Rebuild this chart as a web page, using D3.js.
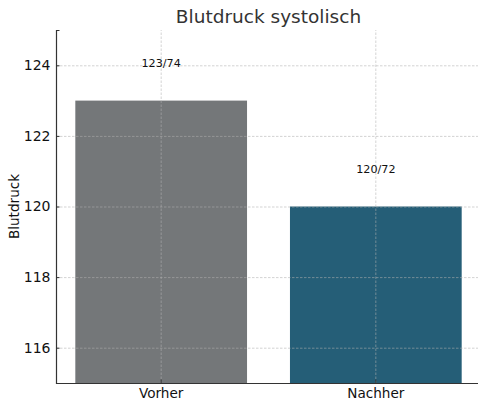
<!DOCTYPE html>
<html>
<head>
<meta charset="utf-8">
<script src="https://cdn.jsdelivr.net/npm/d3@7"></script>
<style>
  body { margin: 0; background: #fff; }
  svg { font-family: "DejaVu Sans", sans-serif; }
</style>
</head>
<body>
<script>
// chart data
const categories = ['Vorher', 'Nachher'];
const systolic = [123, 120];
const labels = ['123/74', '120/72'];
const barColors = ['#747779', '#255e77'];
const yTicks = [116, 118, 120, 122, 124];

const width = 478, height = 401;
const margin = { left: 56, right: -3, top: 30, bottom: 18 };

const svg = d3.select('body').append('svg')
    .attr('width', width)
    .attr('height', height);

// scales
const x = d3.scaleBand()
    .domain(categories)
    .range([margin.left, width - margin.right])
    .paddingInner(0.2)
    .paddingOuter(0.09);

const y = d3.scaleLinear()
    .domain([115, 125])
    .range([height - margin.bottom, margin.top]);

// bars
svg.selectAll('rect.bar')
    .data(categories)
    .join('rect')
    .attr('class', 'bar')
    .attr('x', (d) => x(d))
    .attr('width', x.bandwidth())
    .attr('y', (d, i) => y(systolic[i]))
    .attr('height', (d, i) => y(115) - y(systolic[i]))
    .attr('fill', (d, i) => barColors[i]);

// grid lines on top of the bars
const grid = svg.append('g').attr('class', 'grid')
    .attr('stroke', '#b0b0b0')
    .attr('stroke-opacity', 0.7)
    .attr('stroke-width', 0.8)
    .attr('stroke-dasharray', '2.5,1.5');
grid.selectAll('line.h')
    .data(yTicks)
    .join('line')
    .attr('class', 'h')
    .attr('x1', margin.left)
    .attr('x2', width)
    .attr('y1', (d) => y(d) + 0.5)
    .attr('y2', (d) => y(d) + 0.5);
grid.selectAll('line.v')
    .data(categories)
    .join('line')
    .attr('class', 'v')
    .attr('x1', (d) => x(d) + x.bandwidth() / 2)
    .attr('x2', (d) => x(d) + x.bandwidth() / 2)
    .attr('y1', y(115))
    .attr('y2', margin.top);

// y axis
const yAxis = d3.axisLeft(y)
    .tickValues(yTicks)
    .tickSize(-3.5)
    .tickPadding(5.5);
svg.append('g')
    .attr('transform', 'translate(' + margin.left + ',0)')
    .call(yAxis)
    .call((g) => g.select('.domain').attr('stroke', '#333').attr('stroke-width', 1.2))
    .call((g) => g.selectAll('.tick line').attr('stroke', '#333'))
    .call((g) => g.selectAll('.tick text')
        .attr('font-size', '14px')
        .attr('font-family', 'DejaVu Sans')
        .attr('fill', '#111'));

// x axis
const xAxis = d3.axisBottom(x)
    .tickSize(-3.5)
    .tickSizeOuter(0)
    .tickPadding(5);
svg.append('g')
    .attr('transform', 'translate(0,' + y(115) + ')')
    .call(xAxis)
    .call((g) => g.select('.domain').attr('stroke', '#333').attr('stroke-width', 1.2))
    .call((g) => g.selectAll('.tick line').attr('stroke', '#333'))
    .call((g) => g.selectAll('.tick text')
        .attr('font-size', '13.6px')
        .attr('font-family', 'DejaVu Sans')
        .attr('fill', '#111'));

// value labels above bars
svg.selectAll('text.val')
    .data(categories)
    .join('text')
    .attr('class', 'val')
    .attr('x', (d) => x(d) + x.bandwidth() / 2)
    .attr('y', (d, i) => y(systolic[i] + 1) + 1.5)
    .attr('text-anchor', 'middle')
    .attr('font-size', '11.2px')
    .attr('fill', '#111')
    .text((d, i) => labels[i]);

// title
svg.append('text')
    .attr('x', (margin.left + width - margin.right) / 2)
    .attr('y', 23)
    .attr('text-anchor', 'middle')
    .attr('font-size', '18.5px')
    .attr('fill', '#333')
    .text('Blutdruck systolisch');

// y label
svg.append('text')
    .attr('transform', 'translate(19,' + (margin.top + y(115)) / 2 + ') rotate(-90)')
    .attr('text-anchor', 'middle')
    .attr('font-size', '13.6px')
    .attr('fill', '#111')
    .text('Blutdruck');
</script>
</body>
</html>
